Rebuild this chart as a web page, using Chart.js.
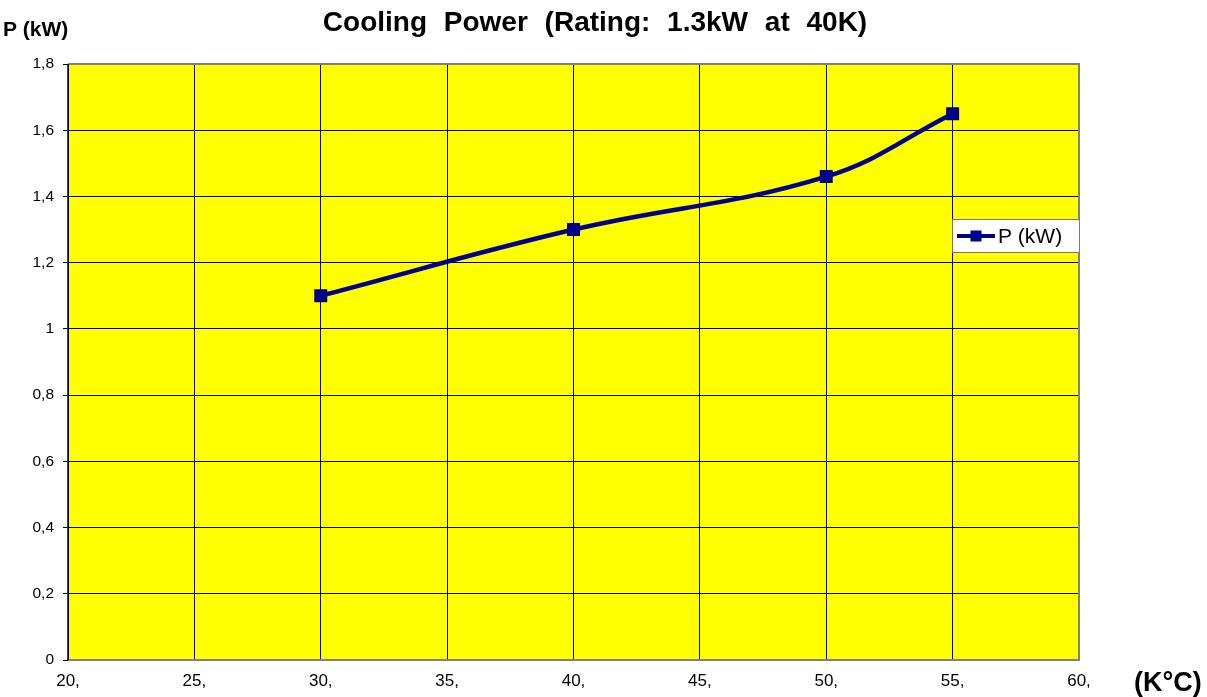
<!DOCTYPE html>
<html><head><meta charset="utf-8">
<script src="https://cdn.jsdelivr.net/npm/chart.js@4"></script>
<style>html,body{margin:0;padding:0;background:#fff}#wrap{width:1207px;height:697px}</style>
</head><body><div id="wrap"><canvas id="c" width="1207" height="697"></canvas></div>
<script>
const chartTitle = "Cooling Power (Rating: 1.3kW at 40K)";
const yAxisTitle = "P (kW)";
const xAxisTitle = "(K°C)";
const seriesLabel = "P (kW)";
const temps = [30, 40, 50, 55];
const power = [1.1, 1.3, 1.46, 1.65];
const xMin = 20, xMax = 60, xStep = 5;
const yMin = 0, yMax = 1.8, yStep = 0.2;

const FONT = "'Liberation Sans', Arial, sans-serif";
const navy = '#000088';

const deco = {
  id: 'deco',
  beforeDraw(chart) {
    const {ctx, chartArea: a} = chart;
    ctx.save();
    ctx.fillStyle = '#ffff00';
    ctx.fillRect(a.left, a.top, a.right - a.left, a.bottom - a.top);
    ctx.restore();
  },
  afterDatasetsDraw(chart) {
    const {ctx, chartArea: a} = chart;
    ctx.save();
    // frame
    ctx.strokeStyle = '#808080';
    ctx.lineWidth = 2;
    ctx.beginPath();
    ctx.moveTo(a.left, a.top); ctx.lineTo(a.right, a.top); ctx.lineTo(a.right, a.bottom); ctx.lineTo(a.left, a.bottom);
    ctx.stroke();
    ctx.strokeStyle = '#000';
    ctx.lineWidth = 1.5;
    ctx.beginPath(); ctx.moveTo(a.left, a.top); ctx.lineTo(a.left, a.bottom); ctx.stroke();
    // legend
    const lx = 952.5, ly = 219.5, lw = 127, lh = 33;
    ctx.fillStyle = '#fff';
    ctx.fillRect(lx, ly, lw, lh);
    ctx.strokeStyle = '#777'; ctx.lineWidth = 1;
    ctx.strokeRect(lx, ly, lw, lh);
    const my = ly + lh / 2;
    ctx.strokeStyle = navy; ctx.lineWidth = 4;
    ctx.beginPath(); ctx.moveTo(957, my); ctx.lineTo(995, my); ctx.stroke();
    ctx.fillStyle = navy; ctx.fillRect(970.5, my - 5.5, 11, 11);
    ctx.fillStyle = '#000'; ctx.font = '21px ' + FONT; ctx.textBaseline = 'middle'; ctx.textAlign = 'left';
    ctx.fillText(chart.data.datasets[0].label, 998, my + 1);
    // titles
    ctx.font = 'bold 28px ' + FONT; ctx.textAlign = 'center'; ctx.textBaseline = 'alphabetic';
    if ('wordSpacing' in ctx) ctx.wordSpacing = '9px';
    ctx.fillText(chartTitle, 595, 31);
    if ('wordSpacing' in ctx) ctx.wordSpacing = '0px';
    ctx.font = 'bold 21px ' + FONT; ctx.textAlign = 'left';
    ctx.fillText(yAxisTitle, 3, 36);
    ctx.font = 'bold 27px ' + FONT;
    ctx.fillText(xAxisTitle, 1134, 691);
    ctx.restore();
  }
};

new Chart(document.getElementById('c'), {
  type: 'line',
  data: {
    datasets: [{
      label: seriesLabel,
      data: temps.map((t, i) => ({x: t, y: power[i]})),
      borderColor: navy,
      backgroundColor: navy,
      borderWidth: 4.5,
      pointStyle: 'rect',
      pointRadius: 6,
      pointHoverRadius: 6,
      tension: 0.4,
      fill: false
    }]
  },
  options: {
    responsive: false,
    animation: false,
    events: [],
    layout: {padding: {top: 64, right: 128, left: 0, bottom: 0}},
    plugins: {legend: {display: false}, title: {display: false}, tooltip: {enabled: false}},
    scales: {
      x: {
        type: 'linear', min: xMin, max: xMax,
        ticks: {stepSize: xStep, color: '#000', font: {family: FONT, size: 17}, padding: 11,
          callback: v => v + ','},
        grid: {color: '#000', lineWidth: 1, drawTicks: false, tickLength: 0},
        border: {display: false},
        afterFit: s => { s.height = 37; }
      },
      y: {
        min: yMin, max: yMax,
        ticks: {stepSize: yStep, color: '#000', font: {family: FONT, size: 15.5}, padding: 9,
          callback: v => (Math.round(v * 10) / 10).toString().replace('.', ',')},
        grid: {color: '#000', lineWidth: 1, tickLength: 5},
        border: {display: false},
        afterFit: s => { s.width = 68; }
      }
    }
  },
  plugins: [deco]
});
</script></body></html>
